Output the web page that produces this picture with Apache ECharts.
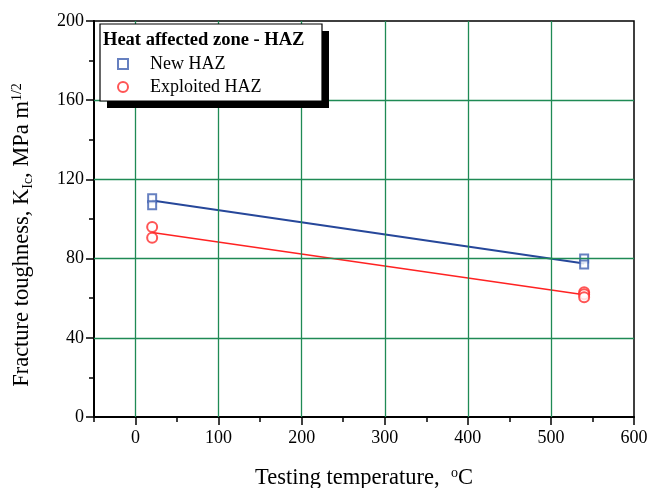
<!DOCTYPE html>
<html>
<head>
<meta charset="utf-8">
<script src="https://cdn.jsdelivr.net/npm/echarts@6/dist/echarts.min.js"></script>
<style>
  html, body { margin: 0; padding: 0; background: #fff; }
  #chart { width: 651px; height: 488px; }
</style>
</head>
<body>
<div id="chart"></div>
<script>
var newTemp = [20, 20, 540, 540];
var newK = [110.5, 107, 80, 77];
var explTemp = [20, 20, 540, 540, 540];
var explK = [96, 90.5, 63, 62, 60.5];

// linear fits
var fitTemp = [20, 540];
var newFitK = [109.4, 77.5];
var explFitK = [93.2, 61.8];

var xTicks = [0, 100, 200, 300, 400, 500, 600];
var xGrid = [0, 100, 200, 300, 400, 500];
var yGrid = [40, 80, 120, 160];

var serif = '"Liberation Serif", "DejaVu Serif", serif';
var gridGreen = '#1f8a55';

function pairs(xs, ys) {
    var out = [];
    for (var i = 0; i < xs.length; i++) out.push([xs[i], ys[i]]);
    return out;
}

var gridLines = [];
xGrid.forEach(function (v) { gridLines.push({ xAxis: v }); });
yGrid.forEach(function (v) { gridLines.push({ yAxis: v }); });

var chart = echarts.init(document.getElementById('chart'));

var option = {
    animation: false,
    backgroundColor: '#fff',
    grid: {
        left: 94, top: 21, right: 17, bottom: 71,
        outerBoundsMode: 'none',
        show: true, borderColor: '#000', borderWidth: 1.5
    },
    xAxis: [{
        type: 'value', min: -50, max: 600, interval: 50,
        name: 'Testing temperature,  {sup|o}C',
        nameLocation: 'middle', nameGap: 49,
        nameTextStyle: {
            fontFamily: serif, fontSize: 22.5, color: '#000',
            rich: { sup: { fontFamily: serif, fontSize: 14, color: '#000', verticalAlign: 'top', padding: [0, 0, 10, 0] } }
        },
        axisLine: { onZero: false, lineStyle: { color: '#000', width: 2 } },
        axisTick: { customValues: xTicks, length: 8, lineStyle: { color: '#000', width: 1.5 } },
        axisLabel: { customValues: xTicks, fontFamily: serif, fontSize: 18, color: '#000', margin: 12 },
        splitLine: { show: false }
    }, {
        type: 'value', min: -50, max: 600, interval: 50, position: 'bottom',
        axisLine: { show: false, onZero: false },
        axisTick: { length: 5, lineStyle: { color: '#000', width: 1.5 } },
        axisLabel: { show: false },
        splitLine: { show: false }
    }],
    yAxis: {
        type: 'value', min: 0, max: 200, interval: 40,
        name: 'Fracture toughness, K{sub|Ic}, MPa m{sup|1/2}',
        nameLocation: 'middle', nameGap: 59, nameRotate: 90,
        nameTextStyle: {
            fontFamily: serif, fontSize: 22.5, color: '#000', padding: [0, 32, 0, 0],
            rich: {
                sub: { fontFamily: serif, fontSize: 14, color: '#000', verticalAlign: 'bottom', padding: [8, 0, 0, 0] },
                sup: { fontFamily: serif, fontSize: 14, color: '#000', verticalAlign: 'top', padding: [0, 0, 11, 0] }
            }
        },
        axisLine: { onZero: false, lineStyle: { color: '#000', width: 2 } },
        axisTick: { length: 8, lineStyle: { color: '#000', width: 1.5 } },
        minorTick: { show: true, splitNumber: 2, length: 5, lineStyle: { color: '#000', width: 1.5 } },
        axisLabel: { fontFamily: serif, fontSize: 18, color: '#000', margin: 10 },
        splitLine: { show: false }
    },
    legend: {
        orient: 'vertical', left: 112, top: 50, itemGap: 5,
        itemWidth: 10, itemHeight: 10,
        textStyle: { fontFamily: serif, fontSize: 18, color: '#000', padding: [0, 0, 0, 17] },
        data: [
            { name: 'New HAZ', icon: 'emptyRect' },
            { name: 'Exploited HAZ', icon: 'emptyCircle' }
        ],
        z: 120
    },
    graphic: [
        { type: 'rect', shape: { x: 107, y: 31, width: 222, height: 77 }, style: { fill: '#000' }, z: 100 },
        { type: 'rect', shape: { x: 100, y: 24, width: 222, height: 77 }, style: { fill: '#fff', stroke: '#000', lineWidth: 1.2 }, z: 101 },
        { type: 'text', x: 103, y: 31, style: { text: 'Heat affected zone - HAZ', font: 'bold 18.5px ' + serif, fill: '#000' }, z: 102 }
    ],
    series: [{
        name: 'grid', type: 'line', data: [], silent: true,
        markLine: {
            silent: true, symbol: 'none', label: { show: false },
            lineStyle: { color: gridGreen, width: 1.3, type: 'solid' },
            data: gridLines
        }
    }, {
        name: 'newFit', type: 'line', data: pairs(fitTemp, newFitK),
        showSymbol: false, lineStyle: { color: '#26479a', width: 2 }, z: 3
    }, {
        name: 'explFit', type: 'line', data: pairs(fitTemp, explFitK),
        showSymbol: false, lineStyle: { color: '#ff2222', width: 1.5 }, z: 3
    }, {
        name: 'New HAZ', type: 'scatter', data: pairs(newTemp, newK),
        symbol: 'emptyRect', symbolSize: 8,
        itemStyle: { color: '#4060b0', borderWidth: 1.3 }, z: 4
    }, {
        name: 'Exploited HAZ', type: 'scatter', data: pairs(explTemp, explK),
        symbol: 'emptyCircle', symbolSize: 10,
        itemStyle: { color: '#ff2a2a', borderWidth: 1.3 }, z: 4
    }]
};

chart.setOption(option);
</script>
</body>
</html>
